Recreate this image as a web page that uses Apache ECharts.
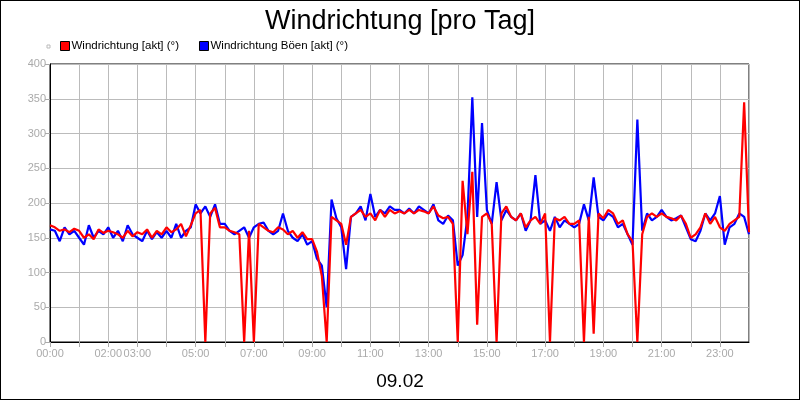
<!DOCTYPE html>
<html><head><meta charset="utf-8">
<script src="https://cdn.jsdelivr.net/npm/echarts@6/dist/echarts.min.js"></script>
<style>html,body{margin:0;padding:0;background:#fff}#c{width:798px;height:398px;border:1px solid #000}</style>
</head><body><div id="c"></div>
<script>
const title = "Windrichtung [pro Tag]";
const dateLabel = "09.02";
const seriesNames = ["Windrichtung [akt] (°)", "Windrichtung Böen [akt] (°)"];
const shownHourLabels = [0,2,3,5,7,9,11,13,15,17,19,21,23];
const red = [
168,165,160,162,158,163, 160,150,155,148,162,157, 160,158,155,150,160,152, 158,155,162,150,160,155,
165,158,162,170,152,168, 185,190,0,185,193,165, 165,160,158,155,0,160, 0,170,165,160,158,165,
162,155,160,150,158,148, 148,130,95,0,180,175, 170,140,180,185,190,180, 185,175,190,180,190,185,
188,185,190,185,190,188, 185,195,182,178,180,170, 0,232,155,245,25,180, 185,170,0,185,195,180,
175,185,165,175,180,170, 185,0,178,175,180,170, 170,175,0,180,12,185, 178,190,185,170,175,155,
145,0,155,180,185,180, 185,180,178,175,182,170, 150,155,165,185,170,180, 165,160,170,175,180,345,
158];
const blue = [
162,160,145,165,155,160, 150,140,168,150,160,155, 165,150,160,145,168,155, 150,145,160,148,158,150,
160,150,170,150,160,165, 198,185,195,180,198,170, 170,160,155,160,165,150, 165,170,172,160,155,160,
185,160,150,145,155,140, 145,120,110,50,205,178, 165,105,180,185,195,175, 213,180,190,185,195,190,
190,185,192,185,195,190, 185,198,175,170,182,175, 110,125,180,352,180,315, 190,170,230,175,190,180,
175,185,160,175,240,170, 175,160,180,165,175,170, 165,170,198,175,237,180, 175,185,180,165,170,155,
140,320,160,185,175,180, 190,180,175,178,182,165, 148,145,160,185,175,185, 210,140,165,170,185,180,
155];
const toPairs = arr => arr.map((v,i)=>[i/6, v]);
const chart = echarts.init(document.getElementById('c'), null, {renderer:'canvas'});
const font = "'Liberation Sans', Arial, sans-serif";
chart.setOption({
  animation:false,
  textStyle:{fontFamily:font},
  title:[{text:title,left:'center',top:2,textStyle:{fontSize:27,fontWeight:'normal',color:'#000',fontFamily:font}},
         {text:dateLabel,left:'center',top:366,textStyle:{fontSize:19,fontWeight:'normal',color:'#000',fontFamily:font}}],
  graphic:[{type:'rect',shape:{x:46,y:44,width:3,height:3},style:{fill:'#fff',stroke:'#bbb',lineWidth:1}}],
  legend:{left:54,top:34,icon:'rect',itemWidth:9,itemHeight:9,itemGap:20,
    textStyle:{fontSize:11.5,color:'#000',fontFamily:font,padding:[0,0,0,-3]},
    data:[{name:seriesNames[0],itemStyle:{color:'#ff0000',borderColor:'#000',borderWidth:1}},
          {name:seriesNames[1],itemStyle:{color:'#0000ff',borderColor:'#000',borderWidth:1}}]},
  grid:{left:49,right:50,top:63,bottom:57,show:true,borderColor:'#000',borderWidth:1},
  xAxis:{type:'value',min:0,max:24,interval:1,
    axisLine:{show:true,lineStyle:{color:'#000'}},
    axisTick:{show:true,length:5,lineStyle:{color:'#aaa'}},
    splitLine:{show:true,lineStyle:{color:'#bbb',width:1}},
    axisLabel:{fontSize:11,color:'#aaa',margin:6,showMaxLabel:false,
      formatter:v=>shownHourLabels.includes(v)?String(v).padStart(2,'0')+':00':''}},
  yAxis:{type:'value',min:0,max:400,interval:50,
    axisLine:{show:true,lineStyle:{color:'#000'}},
    axisTick:{show:true,length:5,lineStyle:{color:'#aaa'}},
    splitLine:{show:true,lineStyle:{color:'#bbb',width:1}},
    axisLabel:{fontSize:11,color:'#aaa',margin:4}},
  series:[
    {name:seriesNames[0],type:'line',data:toPairs(red),showSymbol:false,z:3,lineStyle:{color:'#ff0000',width:2.2},itemStyle:{color:'#ff0000'}},
    {name:seriesNames[1],type:'line',data:toPairs(blue),showSymbol:false,z:2,lineStyle:{color:'#0000ff',width:2.2},itemStyle:{color:'#0000ff'}}
  ]
});
</script></body></html>
